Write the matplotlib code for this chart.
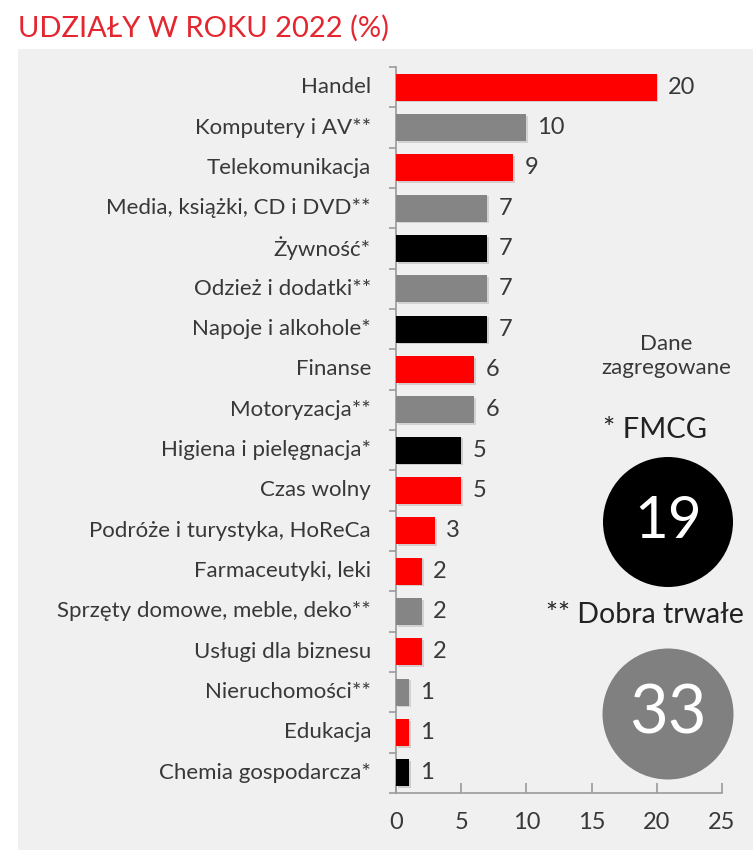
import matplotlib.pyplot as plt
import matplotlib.patheffects as pe
from matplotlib.patches import Ellipse, Rectangle
import numpy as np

plt.rcParams['font.family'] = ['Lato', 'DejaVu Sans']

# dane: udziały w roku 2022 (%)
categories = ['Handel', 'Komputery i AV**', 'Telekomunikacja',
              'Media, książki, CD i DVD**', 'Żywność*', 'Odzież i dodatki**',
              'Napoje i alkohole*', 'Finanse', 'Motoryzacja**',
              'Higiena i pielęgnacja*', 'Czas wolny',
              'Podróże i turystyka, HoReCa', 'Farmaceutyki, leki',
              'Sprzęty domowe, meble, deko**', 'Usługi dla biznesu',
              'Nieruchomości**', 'Edukacja', 'Chemia gospodarcza*']
shares = [20, 10, 9, 7, 7, 7, 7, 6, 6, 5, 5, 3, 2, 2, 2, 1, 1, 1]
x_ticks = [0, 5, 10, 15, 20, 25]

# dane zagregowane
fmcg_total = 19
durable_total = 33

RED = '#ff0000'
GREY = '#858585'
BLACK = '#000000'
TEXT = '#383838'


def bar_color(name):
    # ** dobra trwałe, * FMCG, reszta na czerwono
    if name.endswith('**'):
        return GREY
    if name.endswith('*'):
        return BLACK
    return RED


W, H = 753, 850
fig = plt.figure(figsize=(W / 100, H / 100), dpi=100)

# szare tło pod wykresem
fig.add_artist(Rectangle((18 / W, 0), 1, 1 - 49 / H, transform=fig.transFigure,
                         facecolor='#f0f0f0', edgecolor='none', zorder=-5))

fig.text(18 / W, 1 - 28 / H, 'UDZIAŁY W ROKU 2022 (%)', color='#e3262f',
         fontsize=21, va='center', ha='left')

ax = fig.add_axes([396 / W, 57 / H, (722 - 396) / W, (793 - 67) / H])
ax.set_facecolor('none')

y = np.arange(len(categories))
colors = [bar_color(c) for c in categories]
bars = ax.barh(y, shares, height=0.67, color=colors, zorder=3)
for b in bars:
    b.set_path_effects([pe.SimplePatchShadow(offset=(1.2, -1.2), alpha=0.15),
                        pe.Normal()])

ax.bar_label(bars, labels=[str(v) for v in shares], padding=8,
             fontsize=17, color=TEXT)

ax.set_xlim(0, 25)
ax.set_ylim(len(categories) - 0.5, -0.5)
ax.set_xticks(x_ticks)
ax.set_xticklabels([str(t) for t in x_ticks], fontsize=17, color=TEXT)

# etykiety kategorii jako tekst, kreski na granicach kategorii
ax.set_yticks(np.arange(len(categories) + 1) - 0.5)
ax.set_yticklabels([])
for i, name in enumerate(categories):
    ax.text(-25 / 13.04, i, name, ha='right', va='center', fontsize=16,
            color=TEXT)

for side in ['top', 'right']:
    ax.spines[side].set_visible(False)
for side in ['left', 'bottom']:
    ax.spines[side].set_color('#9a9a9a')
    ax.spines[side].set_linewidth(1.2)
ax.tick_params(axis='y', length=5, color='#9a9a9a', width=1.2)
ax.tick_params(axis='x', direction='in', length=7, color='#9a9a9a', width=1.2,
               pad=14)

# legenda z wartościami zagregowanymi
cx = 668 / W
fig.text(666 / W, 1 - 356 / H, 'Dane\nzagregowane', ha='center', va='center',
         fontsize=16, color=TEXT, linespacing=1.2)
fig.text(655 / W, 1 - 430 / H, '* FMCG', ha='center', va='center',
         fontsize=21, color='#222222')
fig.add_artist(Ellipse((cx, 1 - 522 / H), 130 / W, 130 / H,
                       transform=fig.transFigure, facecolor=BLACK,
                       edgecolor='none', zorder=4))
fig.text(cx, 1 - 522 / H, str(fmcg_total), ha='center', va='center',
         fontsize=42, color='white', zorder=5)

fig.text(546 / W, 1 - 615 / H, '** Dobra trwałe', ha='left', va='center',
         fontsize=20.5, color='#222222')
fig.add_artist(Ellipse((cx, 1 - 714 / H), 131 / W, 131 / H,
                       transform=fig.transFigure, facecolor='#808080',
                       edgecolor='none', zorder=4))
fig.text(cx, 1 - 714 / H, str(durable_total), ha='center', va='center',
         fontsize=48, color='white', zorder=5)

fig.savefig('out.png', dpi=100)
